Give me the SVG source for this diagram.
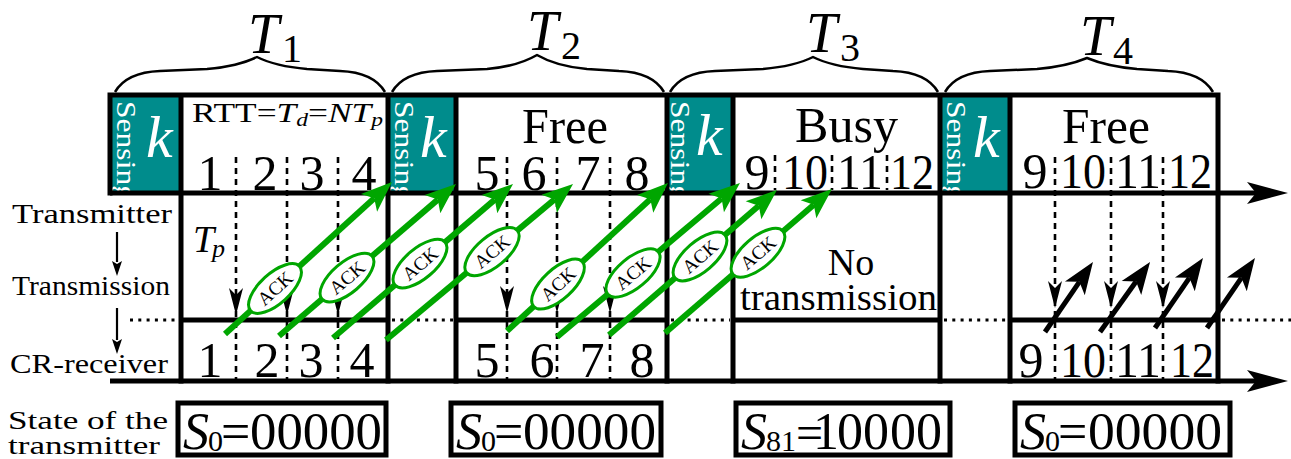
<svg xmlns="http://www.w3.org/2000/svg" width="1291" height="459" viewBox="0 0 1291 459">
<defs>
<style>
.t{font-family:"Liberation Serif","Times New Roman",serif;fill:#000}
.it{font-style:italic}
.w{fill:#fff}
.ln{stroke:#000;stroke-width:5;fill:none;stroke-linecap:square}
.ax{stroke:#000;stroke-width:5;fill:none}
.thin{stroke:#000;stroke-width:2.2;fill:none}
.dash{stroke:#000;stroke-width:2.6;stroke-dasharray:6 5;fill:none}
.dot{stroke:#000;stroke-width:3;stroke-dasharray:3 5.3;fill:none}
.teal{fill:#008c8c}
.g{stroke:#00a600;stroke-width:6;fill:none;marker-end:url(#ga)}
.ack{fill:#fff;stroke:#00a600;stroke-width:3}
.bk{stroke:#000;stroke-width:5;fill:none;marker-end:url(#ba)}
.brace{stroke:#000;stroke-width:2.5;fill:none;stroke-linejoin:round}
.sb{fill:#fff;stroke:#000;stroke-width:5}
</style>
<marker id="ga" markerUnits="userSpaceOnUse" orient="auto" markerWidth="1" markerHeight="1" overflow="visible" refX="0" refY="0"><path d="M24,0 L-7,-12 L0,0 L-7,12 Z" fill="#00a600"/></marker>
<marker id="ba" markerUnits="userSpaceOnUse" orient="auto" markerWidth="1" markerHeight="1" overflow="visible" refX="0" refY="0"><path d="M24,0 L-8,-12 L0,0 L-8,12 Z" fill="#000"/></marker>
<path id="dh" d="M0,0 L-7,-27 L0,-20 L7,-27 Z" fill="#000"/>
<path id="sh" d="M0,0 L-5,-15 L0,-12 L5,-15 Z" fill="#000"/>
<clipPath id="c1"><rect x="110" y="95" width="71" height="96"/></clipPath>
<clipPath id="c2"><rect x="388" y="95" width="68" height="96"/></clipPath>
<clipPath id="c3"><rect x="667" y="95" width="66" height="96"/></clipPath>
<clipPath id="c4"><rect x="940" y="95" width="70" height="96"/></clipPath>
</defs>
<rect width="1291" height="459" fill="#fff"/>

<g id="period-labels">
<path class="brace" d="M115,92 C122,80 135,72 160,71 L207,69 C230,67 245,63 257,57 C269,63 284,67 307,69 L340,71 C365,72 378,80 385,92"/>
<path class="brace" d="M392,92 C399,80 412,72 437,71 L487,69 C510,67 525,62 537,55 C549,62 564,67 587,69 L619,71 C644,72 657,80 664,92"/>
<path class="brace" d="M670,92 C677,80 690,72 715,71 L763,69 C786,67 801,63 813,57 C825,63 840,67 863,69 L893,71 C918,72 931,80 938,92"/>
<path class="brace" d="M945,92 C952,80 965,72 990,71 L1037,69 C1060,67 1075,63 1087,58 C1099,63 1114,67 1137,69 L1168,71 C1193,72 1206,80 1213,92"/>
<text class="t it" x="248" y="53" font-size="56">T</text><text class="t" x="282" y="62" font-size="40">1</text>
<text class="t it" x="527" y="50" font-size="56">T</text><text class="t" x="561" y="59" font-size="40">2</text>
<text class="t it" x="806" y="52" font-size="56">T</text><text class="t" x="840" y="61" font-size="40">3</text>
<text class="t it" x="1080" y="55" font-size="56">T</text><text class="t" x="1113" y="64" font-size="40">4</text>
</g>

<g id="left-labels">
<text class="t" x="12" y="223" font-size="28" textLength="160" lengthAdjust="spacingAndGlyphs">Transmitter</text>
<path class="thin" d="M117,232 V262"/><use href="#sh" x="117" y="276"/>
<text class="t" x="12" y="295" font-size="28" textLength="158" lengthAdjust="spacingAndGlyphs">Transmission</text>
<path class="thin" d="M117,308 V340"/><use href="#sh" x="117" y="354"/>
<text class="t" x="10" y="373" font-size="28" textLength="158" lengthAdjust="spacingAndGlyphs">CR-receiver</text>
<text class="t" x="8" y="429" font-size="26" textLength="160" lengthAdjust="spacingAndGlyphs">State of the</text>
<text class="t" x="8" y="454" font-size="26" textLength="152" lengthAdjust="spacingAndGlyphs">transmitter</text>
</g>

<g id="sensing1">
<rect class="teal" x="110" y="95" width="71" height="98"/>
<g clip-path="url(#c1)"><text class="t w" transform="translate(117,101) rotate(90)" font-size="27" textLength="100" lengthAdjust="spacingAndGlyphs">Sensing</text></g>
<text class="t w it" x="146" y="157" font-size="60">k</text>
</g>
<g id="sensing2">
<rect class="teal" x="388" y="95" width="68" height="98"/>
<g clip-path="url(#c2)"><text class="t w" transform="translate(395,101) rotate(90)" font-size="27" textLength="100" lengthAdjust="spacingAndGlyphs">Sensing</text></g>
<text class="t w it" x="420" y="157" font-size="60">k</text>
</g>
<g id="sensing3">
<rect class="teal" x="667" y="95" width="66" height="98"/>
<g clip-path="url(#c3)"><text class="t w" transform="translate(671,101) rotate(90)" font-size="27" textLength="100" lengthAdjust="spacingAndGlyphs">Sensing</text></g>
<text class="t w it" x="696" y="155" font-size="60">k</text>
</g>
<g id="sensing4">
<rect class="teal" x="940" y="95" width="70" height="98"/>
<g clip-path="url(#c4)"><text class="t w" transform="translate(947,101) rotate(90)" font-size="27" textLength="100" lengthAdjust="spacingAndGlyphs">Sensing</text></g>
<text class="t w it" x="973" y="157" font-size="60">k</text>
</g>

<g id="frame">
<path class="ln" d="M110,95 H1218 M110,95 V193 M181,95 V381 M388,95 V381 M456,95 V381 M667,95 V381 M733,95 V381 M940,95 V381 M1010,95 V381 M1218,95 V381 M181,320 H388 M456,320 H667 M733,320 H940 M1010,320 H1218"/>
<path class="dot" d="M130,320 H180 M392,320 H453 M671,320 H730 M944,320 H1007 M1222,320 H1291"/>
<path class="ax" d="M110,193 H1257 M110,381 H1257"/>
<path d="M1288,193 L1247,182 L1256,193 L1247,204 Z M1288,381 L1247,370 L1256,381 L1247,392 Z" fill="#000"/>
</g>

<g id="block1">
<text class="t" x="192" y="122" font-size="27" textLength="191" lengthAdjust="spacingAndGlyphs">RTT=<tspan class="it">T</tspan><tspan class="it" font-size="18" dy="4">d</tspan><tspan dy="-4">=</tspan><tspan class="it">NT</tspan><tspan class="it" font-size="18" dy="4">p</tspan></text>
<g class="t" font-size="50" text-anchor="middle">
<text x="210" y="190">1</text><text x="265" y="190">2</text><text x="312" y="190">3</text><text x="364" y="190">4</text>
<text x="210" y="377">1</text><text x="267" y="377">2</text><text x="311" y="377">3</text><text x="362" y="377">4</text>
</g>
<text class="t it" x="193" y="252" font-size="38">T</text><text class="t it" x="212" y="257" font-size="26">p</text>
</g>

<g id="block2">
<text class="t" x="522" y="143" font-size="50" textLength="86" lengthAdjust="spacingAndGlyphs">Free</text>
<g class="t" font-size="50" text-anchor="middle">
<text x="487" y="190">5</text><text x="534" y="190">6</text><text x="588" y="190">7</text><text x="637" y="190">8</text>
<text x="487" y="377">5</text><text x="542" y="377">6</text><text x="592" y="377">7</text><text x="642" y="377">8</text>
</g>
</g>

<g id="block3">
<text class="t" x="795" y="142" font-size="50" textLength="103" lengthAdjust="spacingAndGlyphs">Busy</text>
<g class="t" font-size="50" text-anchor="middle">
<text x="757" y="189">9</text><text x="805" y="189" textLength="46" lengthAdjust="spacingAndGlyphs">10</text><text x="860" y="189" textLength="46" lengthAdjust="spacingAndGlyphs">11</text><text x="912" y="189" textLength="44" lengthAdjust="spacingAndGlyphs">12</text>
</g>
<path class="dash" d="M775,155 V190 M832,155 V190 M887,155 V190"/>
<text class="t" x="851" y="275" font-size="38" text-anchor="middle">No</text>
<text class="t" x="740" y="310" font-size="38" textLength="197" lengthAdjust="spacingAndGlyphs">transmission</text>
</g>

<g id="block4">
<text class="t" x="1062" y="143" font-size="50" textLength="88" lengthAdjust="spacingAndGlyphs">Free</text>
<g class="t" font-size="50" text-anchor="middle">
<text x="1035" y="188">9</text><text x="1083" y="188" textLength="46" lengthAdjust="spacingAndGlyphs">10</text><text x="1138" y="188" textLength="46" lengthAdjust="spacingAndGlyphs">11</text><text x="1190" y="188" textLength="44" lengthAdjust="spacingAndGlyphs">12</text>
<text x="1031" y="377">9</text><text x="1083" y="377" textLength="46" lengthAdjust="spacingAndGlyphs">10</text><text x="1138" y="377" textLength="46" lengthAdjust="spacingAndGlyphs">11</text><text x="1192" y="377" textLength="44" lengthAdjust="spacingAndGlyphs">12</text>
</g>
</g>

<g id="state1">
<rect class="sb" x="178" y="403" width="208" height="52"/>
<text class="t it" x="183" y="449" font-size="52">S</text><text class="t" x="208" y="451" font-size="30">0</text><text class="t" x="221" y="449" font-size="52">=</text><text class="t" x="250" y="449" font-size="52" textLength="132" lengthAdjust="spacingAndGlyphs">00000</text>
</g>
<g id="state2">
<rect class="sb" x="451" y="403" width="210" height="52"/>
<text class="t it" x="456" y="449" font-size="52">S</text><text class="t" x="481" y="451" font-size="30">0</text><text class="t" x="494" y="449" font-size="52">=</text><text class="t" x="523" y="449" font-size="52" textLength="133" lengthAdjust="spacingAndGlyphs">00000</text>
</g>
<g id="state3">
<rect class="sb" x="736" y="403" width="214" height="52"/>
<text class="t it" x="741" y="449" font-size="52">S</text><text class="t" x="766" y="451" font-size="30">81</text><text class="t" x="796" y="449" font-size="48">=</text><text class="t" x="813" y="449" font-size="52">1<tspan x="837">00</tspan><tspan x="890">00</tspan></text>
</g>
<g id="state4">
<rect class="sb" x="1015" y="403" width="215" height="52"/>
<text class="t it" x="1020" y="449" font-size="52">S</text><text class="t" x="1045" y="451" font-size="30">0</text><text class="t" x="1058" y="449" font-size="52">=</text><text class="t" x="1088" y="449" font-size="52" textLength="134" lengthAdjust="spacingAndGlyphs">00000</text>
</g>

<g id="connectors">
<g id="dashed-arrows">
<path class="dash" d="M236,157 V381 M287,157 V381 M338,157 V381 M507,157 V381 M557,157 V381 M610,157 V381 M1055,157 V381 M1111,157 V381 M1163,157 V381"/>
<use href="#dh" x="236" y="315"/><use href="#dh" x="287" y="315"/><use href="#dh" x="338" y="315"/>
<use href="#dh" x="507" y="313"/><use href="#dh" x="557" y="313"/><use href="#dh" x="610" y="313"/>
<use href="#dh" x="1055" y="308"/><use href="#dh" x="1111" y="308"/><use href="#dh" x="1163" y="308"/>
</g>
<g id="ack-arrows">
<path class="g" d="M225,334 L374.2,198.2"/>
<path class="g" d="M279,336 L437.8,199.6"/>
<path class="g" d="M333,338 L494.8,199.6"/>
<path class="g" d="M386,340 L554.6,199.4"/>
<path class="g" d="M507,331 L650.3,199.2"/>
<path class="g" d="M557,337 L721.6,198.5"/>
<path class="g" d="M609,335 L758.8,205.7"/>
<path class="g" d="M665,333 L813.8,204.7"/>
<g class="t" font-size="19" text-anchor="middle">
<g transform="translate(275,288.5) rotate(-42.3)"><ellipse class="ack" rx="33" ry="15"/><text y="6.5">ACK</text></g>
<g transform="translate(347,277.6) rotate(-40.6)"><ellipse class="ack" rx="33" ry="15"/><text y="6.5">ACK</text></g>
<g transform="translate(420,263.6) rotate(-40.5)"><ellipse class="ack" rx="33" ry="15"/><text y="6.5">ACK</text></g>
<g transform="translate(492,251.6) rotate(-39.8)"><ellipse class="ack" rx="33" ry="15"/><text y="6.5">ACK</text></g>
<g transform="translate(558,284.1) rotate(-42.6)"><ellipse class="ack" rx="33" ry="15"/><text y="6.5">ACK</text></g>
<g transform="translate(633,273) rotate(-40.1)"><ellipse class="ack" rx="33" ry="15"/><text y="6.5">ACK</text></g>
<g transform="translate(700,256.5) rotate(-40.8)"><ellipse class="ack" rx="33" ry="15"/><text y="6.5">ACK</text></g>
<g transform="translate(758,252.8) rotate(-40.8)"><ellipse class="ack" rx="33" ry="15"/><text y="6.5">ACK</text></g>
</g>
</g>
<g id="black-arrows">
<path class="bk" d="M1045,332 L1079.4,281.8"/>
<path class="bk" d="M1100,332 L1136.1,281.5"/>
<path class="bk" d="M1155,328 L1189.4,277.8"/>
<path class="bk" d="M1207,328 L1241.4,277.8"/>
</g>
</g>
</svg>
